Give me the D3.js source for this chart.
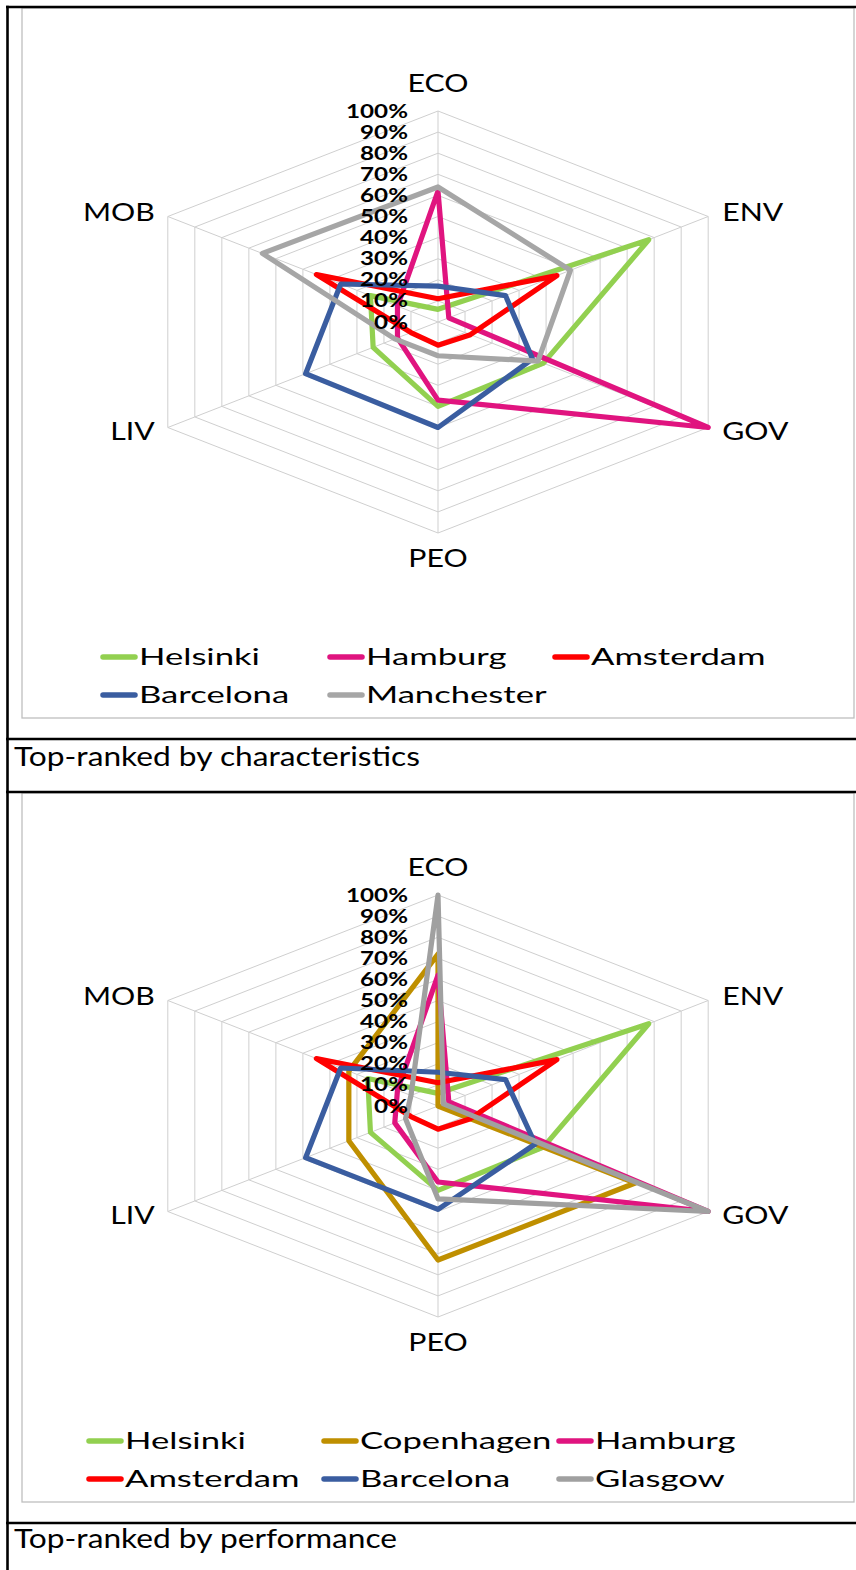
<!DOCTYPE html>
<html><head><meta charset="utf-8">
<script src="https://cdn.jsdelivr.net/npm/d3@7"></script>
<style>body{margin:0;background:#fff} svg{display:block}</style>
</head><body>
<svg id="c" width="856" height="1570"></svg>
<script>
// ---------- DATA ----------
const axes = ["ECO", "ENV", "GOV", "PEO", "LIV", "MOB"];
const tickValues = [0, 0.1, 0.2, 0.3, 0.4, 0.5, 0.6, 0.7, 0.8, 0.9, 1.0];
const tickLabels = ["0%", "10%", "20%", "30%", "40%", "50%", "60%", "70%", "80%", "90%", "100%"];

// Chart 1: top-ranked by characteristics (values per axis ECO, ENV, GOV, PEO, LIV, MOB)
const chart1Cities = ["Helsinki", "Hamburg", "Amsterdam", "Barcelona", "Manchester"];
const helsinki1   = [0.06, 0.78, 0.39, 0.40, 0.24, 0.25];
const hamburg1    = [0.62, 0.04, 1.00, 0.37, 0.15, 0.15];
const amsterdam1  = [0.11, 0.44, 0.12, 0.11, 0.10, 0.45];
const barcelona1  = [0.17, 0.25, 0.35, 0.50, 0.49, 0.36];
const manchester1 = [0.64, 0.49, 0.37, 0.16, 0.16, 0.65];

// Chart 2: top-ranked by performance
const chart2Cities = ["Helsinki", "Copenhagen", "Hamburg", "Amsterdam", "Barcelona", "Glasgow"];
const helsinki2   = [0.06, 0.78, 0.39, 0.40, 0.25, 0.26];
const copenhagen2 = [0.72, 0.00, 0.73, 0.73, 0.33, 0.33];
const hamburg2    = [0.62, 0.04, 1.00, 0.36, 0.16, 0.15];
const amsterdam2  = [0.11, 0.44, 0.12, 0.11, 0.10, 0.45];
const barcelona2  = [0.16, 0.25, 0.36, 0.49, 0.49, 0.36];
const glasgow2    = [1.00, 0.02, 1.00, 0.44, 0.12, 0.10];

const captions = ["Top-ranked by characteristics", "Top-ranked by performance"];

const cityColors = {
  "Helsinki": "#92D050", "Hamburg": "#E0147F", "Amsterdam": "#FF0000",
  "Barcelona": "#3A5DA0", "Manchester": "#A6A6A6", "Copenhagen": "#BF8F00", "Glasgow": "#A0A0A0"
};

// ---------- LAYOUT ----------
const FONT = "Lato, 'Open Sans', sans-serif";
const svg = d3.select("#c");
const RX = 312, RY = 211;

function measure(str, size, weight) {
  const t = svg.append("text").attr("font-family", FONT).attr("font-size", size)
    .attr("font-weight", weight || "normal").text(str);
  const w = t.node().getComputedTextLength();
  t.remove();
  return w;
}
const kTick = 62 / measure("100%", 18, "bold");
const kAxis = 61 / measure("ECO", 25);
const kLegend = 121 / measure("Helsinki", 23.5);
const kCap = 406 / measure(captions[0], 26);

function addText(g, str, x, y, size, k, anchor, weight) {
  return g.append("text").text(str)
    .attr("font-family", FONT).attr("font-size", size)
    .attr("font-weight", weight || "normal")
    .attr("text-anchor", anchor || "start")
    .attr("fill", "#000")
    .attr("transform", `translate(${x},${y}) scale(${k},1)`);
}

const angle = d3.scaleLinear().domain([0, axes.length]).range([0, 2 * Math.PI]);
const rx = d3.scaleLinear().domain([0, 1]).range([0, RX]);
const ry = d3.scaleLinear().domain([0, 1]).range([0, RY]);

function drawRadar(cfg) {
  const g = svg.append("g");
  const cx = cfg.cx, cy = cfg.cy;
  const pt = (i, v) => [cx + rx(v) * Math.sin(angle(i)), cy - ry(v) * Math.cos(angle(i))];

  tickValues.filter(v => v > 0).forEach(v => {
    g.append("path")
      .attr("d", d3.line().curve(d3.curveLinearClosed)(axes.map((a, i) => pt(i, v))))
      .attr("fill", "none").attr("stroke", "#CFCFCF").attr("stroke-width", 1);
  });
  axes.forEach((a, i) => {
    const p = pt(i, 1);
    g.append("line").attr("x1", cx).attr("y1", cy).attr("x2", p[0]).attr("y2", p[1])
      .attr("stroke", "#CFCFCF").attr("stroke-width", 1);
  });
  cfg.series.forEach((vals, si) => {
    g.append("path")
      .attr("d", d3.line().curve(d3.curveLinearClosed)(vals.map((v, i) => pt(i, v))))
      .attr("fill", "none").attr("stroke", cityColors[cfg.cities[si]])
      .attr("stroke-width", 5.2).attr("stroke-linejoin", "round");
  });
  tickValues.forEach((v, i) => {
    addText(g, tickLabels[i], cx - 30, cy - ry(v) + 6.5, 18, kTick, "end", "bold");
  });
  axes.forEach((a, i) => {
    const p = pt(i, 1);
    let x = p[0], y = p[1], anchor = "middle";
    if (i === 0) { y = p[1] - 19; }
    else if (i === 3) { y = p[1] + 34; }
    else if (i === 1) { x = p[0] + 14; y = p[1] + 4; anchor = "start"; }
    else if (i === 2) { x = p[0] + 14; y = p[1] + 12; anchor = "start"; }
    else if (i === 4) { x = p[0] - 13; y = p[1] + 12; anchor = "end"; }
    else if (i === 5) { x = p[0] - 13; y = p[1] + 4; anchor = "end"; }
    addText(g, a, x, y, 25, kAxis, anchor);
  });
  cfg.cities.forEach((c, i) => {
    const col = i % 3, row = Math.floor(i / 3);
    const lx = cfg.legendX[col], ly = cfg.legendY[row];
    g.append("line").attr("x1", lx + 2).attr("x2", lx + 34).attr("y1", ly).attr("y2", ly)
      .attr("stroke", cityColors[c]).attr("stroke-width", 5.5).attr("stroke-linecap", "round");
    addText(g, c, lx + 38, ly + 8, 23.5, kLegend, "start");
  });
}

const frames = [{ top: 8, bottom: 718 }, { top: 793, bottom: 1502 }];
frames.forEach(f => {
  svg.append("rect").attr("x", 22).attr("y", f.top).attr("width", 832).attr("height", f.bottom - f.top)
    .attr("fill", "none").attr("stroke", "#BFBFBF").attr("stroke-width", 1.3);
});

drawRadar({
  cx: 438, cy: 322,
  cities: chart1Cities,
  series: [helsinki1, hamburg1, amsterdam1, barcelona1, manchester1],
  legendX: [101, 328, 553], legendY: [657, 695]
});
drawRadar({
  cx: 438, cy: 1106,
  cities: chart2Cities,
  series: [helsinki2, copenhagen2, hamburg2, amsterdam2, barcelona2, glasgow2],
  legendX: [87, 322, 557], legendY: [1441, 1479]
});

[7, 739, 792, 1523].forEach(y => {
  svg.append("line").attr("x1", 6).attr("x2", 856).attr("y1", y).attr("y2", y)
    .attr("stroke", "#000").attr("stroke-width", 2.6);
});
svg.append("line").attr("x1", 7.5).attr("x2", 7.5).attr("y1", 5.7).attr("y2", 1570)
  .attr("stroke", "#000").attr("stroke-width", 2.6);

addText(svg, captions[0], 14, 766, 26, kCap, "start");
addText(svg, captions[1], 14, 1548, 26, kCap, "start");
</script>
</body></html>
